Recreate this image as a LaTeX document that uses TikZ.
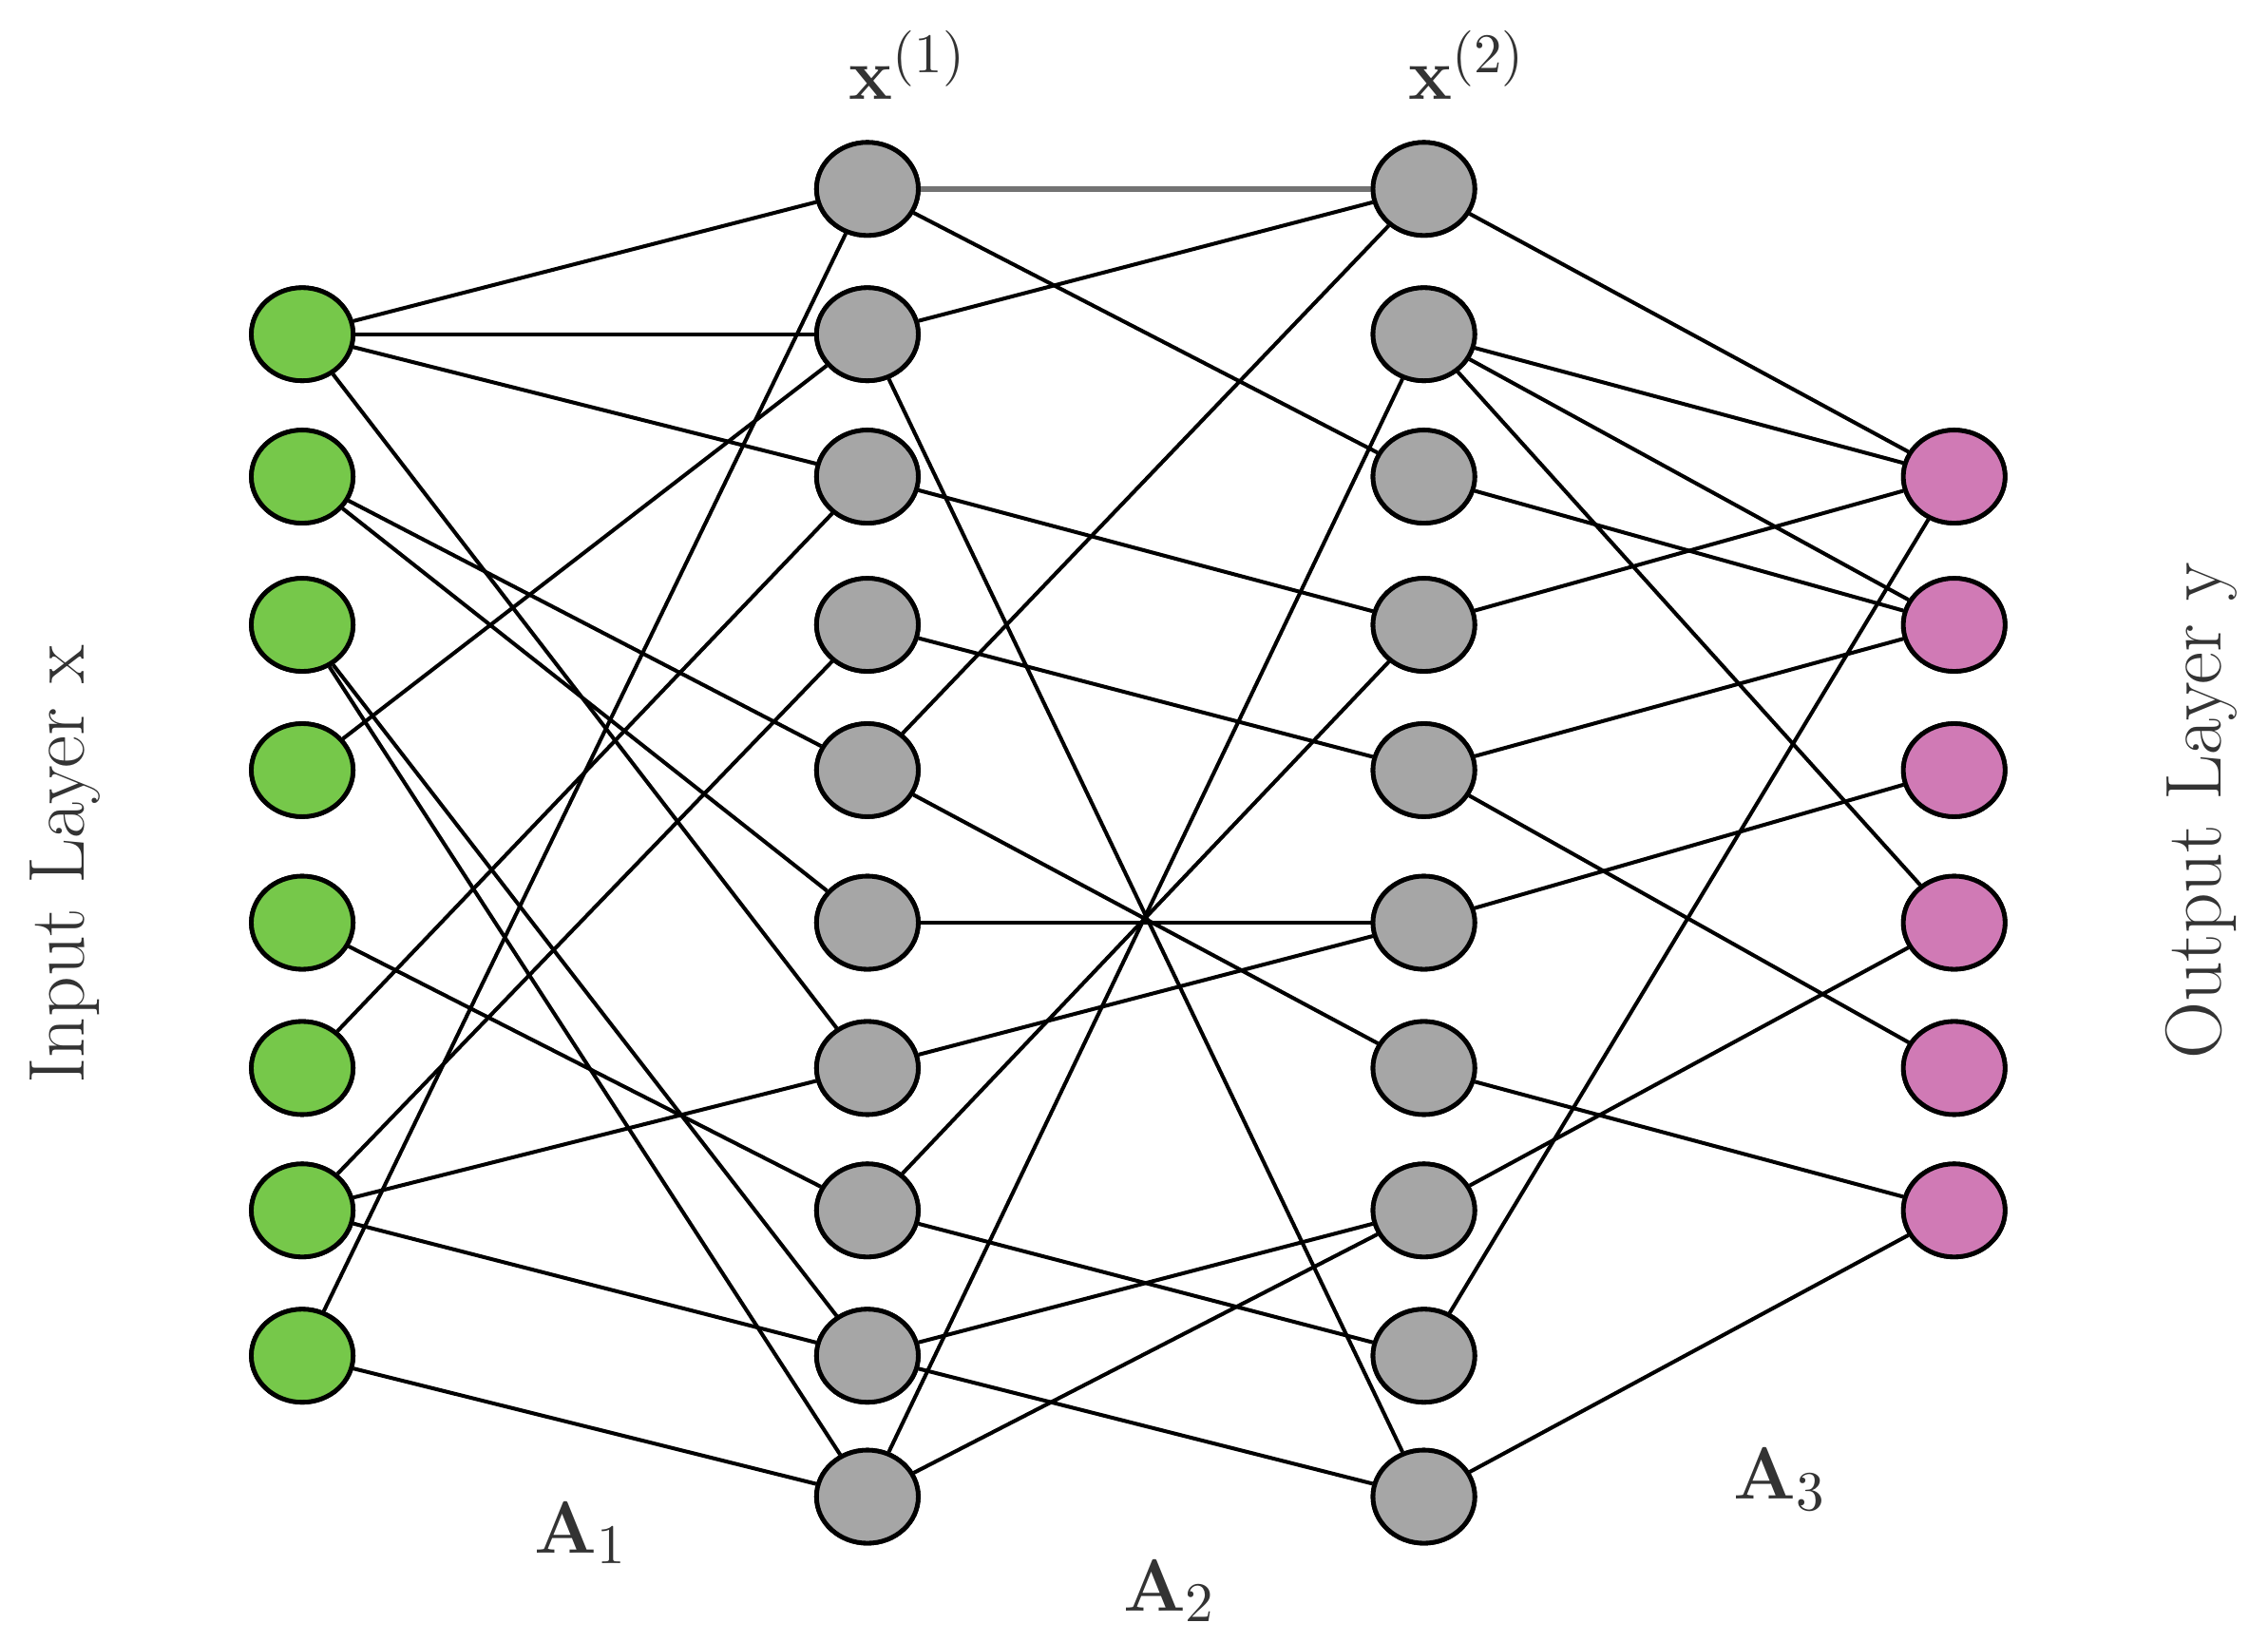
\documentclass[tikz,border=0pt]{standalone}
\usepackage{tikz}
\usetikzlibrary{shapes.geometric}
\begin{document}
\begin{tikzpicture}[x=0.01cm,y=-0.01cm,
  neuron/.style={ellipse,draw=black,line width=0.9pt,minimum width=0.70cm,minimum height=0.64cm,inner sep=0pt},
  inp/.style={neuron,fill=inGreen},
  hid/.style={neuron,fill=hidGray},
  outp/.style={neuron,fill=outPink},
  edge/.style={line width=0.75pt,draw=black},
  lbl/.style={font=\fontsize{15.5}{18}\selectfont,text=black!80}]
\definecolor{inGreen}{HTML}{76C84A}
\definecolor{hidGray}{HTML}{A6A6A6}
\definecolor{outPink}{HTML}{D07AB5}
\useasboundingbox (0,0) rectangle (1561,1129.5);
% nodes
\foreach \i/\y in {1/230,2/328,3/430,4/530,5/635,6/735,7/833,8/933}
  \node[inp] (I\i) at (208,\y) {};
\foreach \i/\y in {1/130,2/230,3/328,4/430,5/530,6/635,7/735,8/833,9/933,10/1030}
  \node[hid] (H\i) at (597,\y) {};
\foreach \i/\y in {1/130,2/230,3/328,4/430,5/530,6/635,7/735,8/833,9/933,10/1030}
  \node[hid] (J\i) at (980,\y) {};
\foreach \i/\y in {1/328,2/430,3/530,4/635,5/735,6/833}
  \node[outp] (O\i) at (1345,\y) {};
% A1
\begin{scope}[on background layer/.style={}]
\foreach \a/\b in {I1/H1,I1/H2,I1/H3,I1/H7,I2/H5,I2/H6,I3/H9,I3/H10,I4/H2,I5/H8,I6/H3,I7/H4,I7/H7,I7/H9,I8/H1,I8/H10}
  \draw[edge] (\a) -- (\b);
% A2
\draw[line width=1.1pt,draw=black!55] (H1) -- (J1);
\foreach \a/\b in {H1/J3,H2/J1,H2/J10,H3/J4,H4/J5,H5/J1,H5/J7,H6/J6,H7/J6,H8/J4,H8/J9,H9/J8,H9/J10,H10/J8,H10/J2}
  \draw[edge] (\a) -- (\b);
% A3
\foreach \a/\b in {J1/O1,J2/O1,J2/O2,J2/O4,J3/O2,J4/O1,J5/O2,J5/O5,J6/O3,J7/O6,J8/O4,J9/O1,J10/O6}
  \draw[edge] (\a) -- (\b);
\end{scope}
% redraw nodes on top
\foreach \i/\y in {1/230,2/328,3/430,4/530,5/635,6/735,7/833,8/933}
  \node[inp] at (208,\y) {};
\foreach \i/\y in {1/130,2/230,3/328,4/430,5/530,6/635,7/735,8/833,9/933,10/1030}
  {\node[hid] at (597,\y) {}; \node[hid] at (980,\y) {};}
\foreach \i/\y in {1/328,2/430,3/530,4/635,5/735,6/833}
  \node[outp] at (1345,\y) {};
% labels
\node[lbl] (lx1) at (625,45) {$\mathbf{x}^{(1)}$};
\node[lbl] (lx2) at (1010,45) {$\mathbf{x}^{(2)}$};
\node[lbl,rotate=90] (lin) at (45,595) {Input Layer x};
\node[lbl,rotate=90] (lout) at (1515,558) {Output Layer y};
\node[lbl] (a1) at (400,1055) {$\mathbf{A}_1$};
\node[lbl] (a2) at (805,1095) {$\mathbf{A}_2$};
\node[lbl] (a3) at (1225,1018) {$\mathbf{A}_3$};
\end{tikzpicture}
\end{document}
